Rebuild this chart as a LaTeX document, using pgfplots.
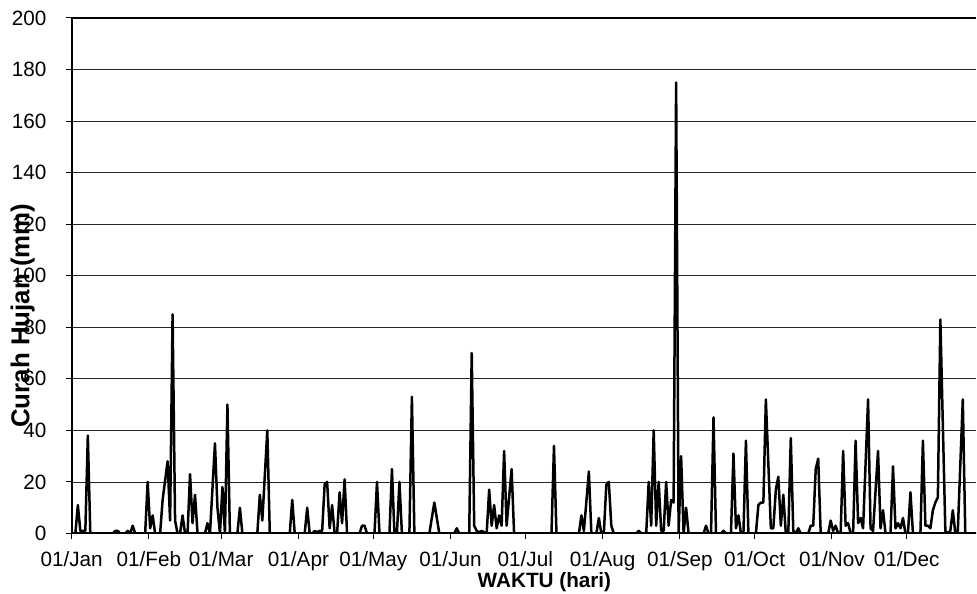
\documentclass[border=0pt]{standalone}
\usepackage{pgfplots}
\pgfplotsset{compat=1.18}
\usepackage{fontspec}
\setmainfont{Liberation Sans}
\begin{document}
\begin{tikzpicture}
\begin{axis}[
  at={(0,0)}, anchor=south west,
  scale only axis,
  width=905.3bp, height=516bp,
  xmin=0, xmax=362.8, ymin=0, ymax=200,
  axis x line*=bottom, axis y line*=left,
  axis line style={line width=2bp, -},
  tick align=outside,
  major tick length=6bp,
  tick style={black, line width=1bp},
  xtick={0,31,60,91,121,152,182,213,244,274,305,335},
  xticklabels={01/Jan,01/Feb,01/Mar,01/Apr,01/May,01/Jun,01/Jul,01/Aug,01/Sep,01/Oct,01/Nov,01/Dec},
  ytick={0,20,...,200},
  ymajorgrids,
  grid style={black!85, line width=0.8bp},
  /pgf/number format/assume math mode=true,
  ticklabel style={font=\fontsize{20.8}{24}\selectfont, inner sep=0pt},
  xticklabel style={anchor=north, yshift=-12bp},
  yticklabel style={anchor=east, xshift=-19bp},
  xlabel={\bfseries WAKTU (hari)},
  xlabel style={at={(axis description cs:0.5228,0)}, anchor=north, inner sep=0pt, yshift=-39bp, font=\fontsize{20.8}{24}\selectfont},
  ylabel={\bfseries Curah Hujan (mm)},
  ylabel style={at={(axis description cs:-0.054,0.4225)}, anchor=center, inner sep=0pt, font=\fontsize{26}{30}\selectfont},
  clip=true,
]
\addplot[black, line width=2.5bp, line join=round, mark=none] coordinates {
(0,0) (1.5,0) (2.5,11) (3.5,1) (4.5,1) (5.5,1) (6.5,38) (7.5,0)
(16.5,0) (17.5,1) (18.5,1) (19.5,0) (21.5,0) (22.5,1) (23.5,0) (24.5,3) (25.5,0)
(29.5,0) (30.5,20) (31.5,2) (32.5,7) (33.5,0) (35.5,0) (36.5,13) (38.5,28) (39.5,5)
(40.5,85) (41.5,5) (42.5,0) (43.5,0) (44.5,7) (45.5,0) (46.5,0) (47.5,23) (48.5,4)
(49.5,15) (50.5,0) (53.5,0) (54.5,4) (55.5,0) (57.5,35) (58.5,10) (59.5,0) (60.5,18)
(61.5,0) (62.5,50) (63.5,0) (66.5,0) (67.5,10) (68.5,0) (74.5,0) (75.5,15) (76.5,5)
(78.5,40) (79.5,0) (87.5,0) (88.5,13) (89.5,0) (93.5,0) (94.5,10) (95.5,0) (96.5,0)
(97.5,1) (98.5,0.5) (99.5,1) (100.5,1) (101.5,19) (102.5,20) (103.5,2) (104.5,11)
(105.5,0) (106.5,0) (107.5,16) (108.5,4) (109.5,21) (110.5,0) (115.5,0) (116.5,3)
(117.5,3) (118.5,0) (121.5,0) (122.5,20) (123.5,0) (127.5,0) (128.5,25) (129.5,0)
(130.5,0) (131.5,20) (132.5,0) (135.5,0) (136.5,53) (137.5,0) (143.5,0) (145.5,12)
(147.5,0) (153.5,0) (154.5,2) (155.5,0) (159.5,0) (160.5,70) (161.5,3) (162.5,1)
(163.5,0.5) (164.5,1) (165.5,0.5) (166.5,0) (167.5,17) (168.5,3) (169.5,11) (170.5,2)
(171.5,7) (172.5,3) (173.5,32) (174.5,3) (176.5,25) (177.5,0) (192.5,0) (193.5,34)
(194.5,0) (203.5,0) (204.5,7) (205.5,1) (207.5,24) (208.5,0) (210.5,0) (211.5,6)
(212.5,0) (213.5,0) (214.5,19) (215.5,20) (216.5,3) (217.5,0) (226.5,0) (227.5,1)
(228.5,0) (230.5,0) (231.5,20) (232.5,3) (233.5,40) (234.5,3) (235.5,20) (236.5,1)
(237.5,1) (238.5,20) (239.5,3) (240.5,13) (241.5,12) (242.5,175) (243.5,0) (244.5,30)
(245.5,0) (246.5,10) (247.5,0) (253.5,0) (254.5,3) (255.5,0) (256.5,0) (257.5,45)
(258.5,0) (260.5,0) (261.5,1) (262.5,0) (264.5,0) (265.5,31) (266.5,2) (267.5,7)
(268.5,0) (269.5,0) (270.5,36) (271.5,0) (274.5,0) (275.5,11) (276.5,12) (277.5,12)
(278.5,52) (280.5,2) (281.5,2) (282.5,17) (283.5,22) (284.5,3) (285.5,15) (286.5,0)
(287.5,0) (288.5,37) (289.5,1) (290.5,0) (291.5,2) (292.5,0) (295.5,0) (296.5,3)
(297.5,3) (298.5,25) (299.5,29) (300.5,0) (303.5,0) (304.5,5) (305.5,1) (306.5,3)
(307.5,0) (308.5,0) (309.5,32) (310.5,3) (311.5,4) (312.5,0) (313.5,0) (314.5,36)
(315.5,4) (316.5,6) (317.5,2) (319.5,52) (320.5,2) (321.5,1) (323.5,32) (324.5,2)
(325.5,9) (326.5,0) (328.5,0) (329.5,26) (330.5,2) (331.5,4) (332.5,2) (333.5,6)
(334.5,0) (335.5,0) (336.5,16) (337.5,0) (340.5,0) (341.5,36) (342.5,3) (343.5,3)
(344.5,2) (345.5,9) (346.5,12) (347.5,14) (348.5,83) (350.5,1) (351.5,0) (352.5,1)
(353.5,9) (354.5,0) (355.5,1) (357.5,52) (358.5,0) (363,0)
};
\draw[line width=2bp] (rel axis cs:0,1) -- (rel axis cs:1,1);
\end{axis}
\path[use as bounding box] (-71.7bp,-60bp) rectangle (905.3bp,534bp);
\end{tikzpicture}
\end{document}
